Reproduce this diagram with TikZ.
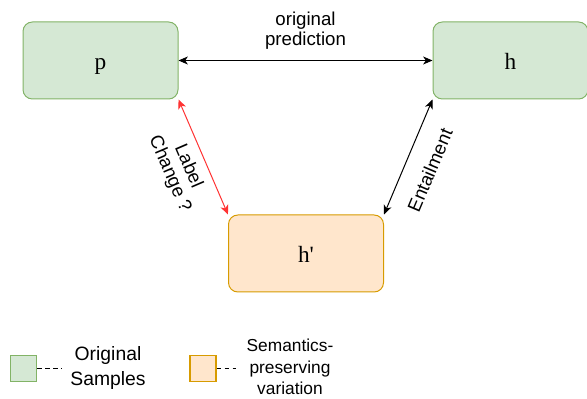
\documentclass[tikz,border=0pt]{standalone}
\usepackage{fontspec}
\setmainfont{Liberation Serif}
\setsansfont{Liberation Sans}
\usetikzlibrary{arrows.meta,positioning,calc}
\definecolor{origfill}{HTML}{D5E8D4}
\definecolor{origline}{HTML}{82B366}
\definecolor{varfill}{HTML}{FFE6CC}
\definecolor{varline}{HTML}{D79B00}
\definecolor{redline}{HTML}{FF3333}
\tikzstyle{arrow} = [line width=0.75pt,{Stealth[length=7pt,width=6pt,inset=2pt]}-{Stealth[length=7pt,width=6pt,inset=2pt]}]

\begin{document}
\begin{tikzpicture}[x=0.75pt,y=-0.75pt,
    samplebox/.style={rectangle,rounded corners=7pt,draw=origline,fill=origfill,line width=0.75pt,minimum width=116.25pt,minimum height=57.75pt,text height=14pt,text depth=0pt,font=\fontsize{17.5}{20}\selectfont},
    varbox/.style={samplebox,draw=varline,fill=varfill},
    legendbox/.style={rectangle,draw=origline,fill=origfill,line width=1pt,minimum size=19.5pt,inner sep=0pt},
    sidetext/.style={text=black,font=\sffamily\fontsize{14}{15}\selectfont,align=center},
    legendtext/.style={font=\sffamily\fontsize{14.5}{18.5}\selectfont,align=center},]
    \useasboundingbox (0,0) rectangle (587,399);

    % boxes: p, h (original) and h' (variation)
    \node[samplebox] (p) at (100.5,60.5) {p};
    \node[samplebox] (h) at (510.5,60.5) {h};
    \node[varbox] (hv) at (306,253.5) {h\textquotesingle};

    % p <-> h
    \draw[arrow] (p) -- node[sidetext,above=5pt] {original\\prediction} (h);

    % p <-> h' (red)
    \draw[arrow,redline] (p.south east) -- node[sidetext,pos=0.52,sloped,below=3pt] {Label\\Change ?} (hv.north west);

    % h' <-> h
    \draw[arrow] (hv.north east) -- node[sidetext,pos=0.47,sloped,below=10pt] {Entailment} (h.south west);

    % legend
    \node[legendbox] (origkey) at (23.5,368.5) {};
    \node[legendtext] (origlabel) at (108,368) {Original\\Samples};
    \node[legendbox,draw=varline,fill=varfill] (varkey) at (203,368.5) {};
    \node[sidetext,font=\sffamily\fontsize{13}{16}\selectfont] (varlabel) at (290,367) {Semantics-\\preserving\\variation};
    \coordinate (origend) at (62,368.5);
    \coordinate (varend) at (236,368.5);
    \draw[line width=0.75pt,dash pattern=on 3.5pt off 2.5pt] (origkey.east) -- (origend);
    \draw[line width=0.75pt,dash pattern=on 3.5pt off 2.5pt] (varkey.east) -- (varend);
\end{tikzpicture}
\end{document}
